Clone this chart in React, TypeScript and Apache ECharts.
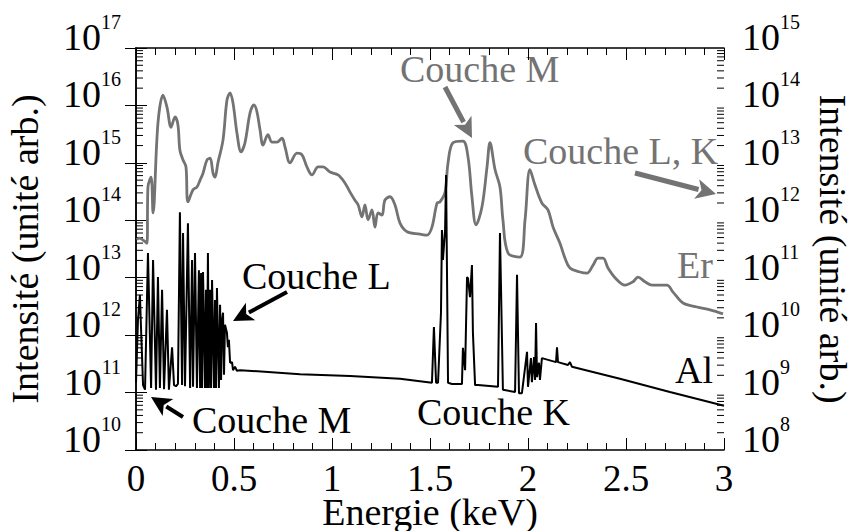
import React, { useEffect, useRef } from 'react';
import * as echarts from 'echarts';

// Er spectrum (grey), energy in keV, log10 of intensity (left-axis units)
const erEnergy = [0.005, 0.015, 0.056, 0.061, 0.077, 0.087, 0.112, 0.138, 0.158, 0.179, 0.199, 0.214, 0.224, 0.240, 0.255, 0.265, 0.291, 0.311, 0.327, 0.342, 0.362, 0.378, 0.393, 0.403, 0.418, 0.444, 0.464, 0.480, 0.495, 0.515, 0.536, 0.556, 0.582, 0.602, 0.617, 0.633, 0.648, 0.673, 0.694, 0.719, 0.745, 0.760, 0.786, 0.821, 0.847, 0.872, 0.898, 0.929, 0.954, 0.990, 1.031, 1.066, 1.092, 1.117, 1.133, 1.153, 1.168, 1.184, 1.204, 1.219, 1.235, 1.255, 1.270, 1.296, 1.321, 1.347, 1.383, 1.449, 1.485, 1.510, 1.536, 1.551, 1.577, 1.592, 1.617, 1.668, 1.694, 1.714, 1.735, 1.765, 1.791, 1.806, 1.832, 1.857, 1.872, 1.898, 1.959, 1.985, 2.010, 2.036, 2.071, 2.102, 2.128, 2.163, 2.189, 2.214, 2.265, 2.301, 2.332, 2.357, 2.383, 2.408, 2.444, 2.495, 2.536, 2.561, 2.597, 2.633, 2.673, 2.709, 2.740, 2.791, 2.862, 2.929, 2.995];
const erLogI = [13.66, 13.69, 13.60, 14.58, 14.75, 14.13, 15.69, 16.18, 15.97, 15.62, 15.80, 15.66, 15.22, 15.05, 14.93, 14.32, 14.53, 14.58, 14.70, 14.82, 15.05, 15.08, 14.82, 14.75, 15.00, 15.40, 16.09, 16.22, 16.04, 15.52, 15.19, 15.35, 15.87, 16.01, 15.89, 15.57, 15.31, 15.49, 15.36, 15.36, 15.43, 15.28, 15.00, 15.17, 15.14, 14.93, 14.79, 14.93, 14.93, 14.84, 14.79, 14.65, 14.49, 14.35, 14.27, 14.06, 14.27, 14.01, 14.18, 13.88, 14.13, 14.09, 14.35, 14.41, 14.27, 13.95, 13.80, 13.76, 13.74, 13.88, 14.30, 14.32, 14.49, 15.00, 15.35, 15.38, 15.10, 14.41, 13.92, 14.23, 14.93, 15.35, 14.88, 14.58, 14.01, 13.43, 13.36, 14.01, 14.88, 14.61, 14.30, 14.18, 13.88, 13.60, 13.34, 13.17, 13.10, 13.08, 13.22, 13.34, 13.34, 13.17, 13.00, 12.87, 12.93, 13.01, 12.93, 12.87, 12.87, 12.87, 12.75, 12.56, 12.49, 12.44, 12.37];

// Al spectrum (black)
const alEnergy = [0.000, 0.010, 0.020, 0.026, 0.036, 0.046, 0.061, 0.077, 0.087, 0.102, 0.112, 0.122, 0.133, 0.143, 0.158, 0.168, 0.184, 0.194, 0.204, 0.214, 0.224, 0.235, 0.240, 0.250, 0.265, 0.276, 0.286, 0.291, 0.301, 0.311, 0.321, 0.327, 0.332, 0.337, 0.342, 0.352, 0.357, 0.362, 0.367, 0.372, 0.378, 0.383, 0.388, 0.398, 0.403, 0.408, 0.413, 0.423, 0.429, 0.434, 0.439, 0.444, 0.449, 0.454, 0.464, 0.469, 0.474, 0.480, 0.490, 0.495, 0.505, 0.515, 0.531, 0.837, 1.092, 1.347, 1.510, 1.520, 1.531, 1.541, 1.556, 1.561, 1.566, 1.577, 1.582, 1.592, 1.612, 1.663, 1.668, 1.679, 1.689, 1.694, 1.704, 1.714, 1.719, 1.730, 1.745, 1.847, 1.857, 1.872, 1.934, 1.944, 1.954, 1.969, 1.995, 2.000, 2.015, 2.020, 2.031, 2.036, 2.041, 2.046, 2.056, 2.061, 2.071, 2.143, 2.148, 2.153, 2.204, 2.214, 2.224, 2.469, 2.724, 3.000];
const alLogI = [11.17, 12.26, 12.70, 12.09, 11.13, 11.05, 13.43, 11.08, 13.31, 11.05, 13.01, 11.08, 12.79, 11.06, 12.44, 11.05, 11.79, 11.13, 11.11, 11.15, 14.14, 11.13, 13.78, 11.11, 13.95, 11.08, 13.31, 11.10, 13.43, 11.08, 13.13, 11.08, 13.08, 11.08, 13.10, 11.08, 12.79, 11.08, 13.43, 11.08, 12.79, 11.08, 12.96, 11.08, 12.61, 11.08, 12.82, 11.08, 12.53, 11.22, 12.26, 12.39, 11.31, 12.18, 12.04, 11.79, 11.92, 11.52, 11.53, 11.39, 11.45, 11.38, 11.39, 11.32, 11.29, 11.24, 11.17, 12.14, 11.17, 11.17, 12.39, 13.83, 13.31, 13.83, 14.79, 11.17, 11.15, 11.15, 11.78, 11.39, 13.01, 12.99, 12.66, 13.22, 12.04, 11.13, 11.13, 11.10, 13.78, 11.05, 11.01, 13.05, 10.99, 10.99, 11.71, 11.10, 11.60, 11.18, 11.62, 11.22, 12.21, 11.27, 11.52, 11.22, 11.60, 11.53, 11.79, 11.53, 11.48, 11.53, 11.45, 11.24, 11.01, 10.77];

const leftExpRange = [10, 17];
const rightExpRange = [8, 15];
const xRange = [0, 3];
const xStep = 0.5;

const FONT = 'Liberation Serif';
const GREY = '#737373';

function arrow(tail: number[], head: number[], color: string, w: number) {
  const dx = head[0] - tail[0];
  const dy = head[1] - tail[1];
  const len = Math.sqrt(dx * dx + dy * dy);
  const ux = dx / len, uy = dy / len;
  const nx = -uy, ny = ux;
  const L = 20, W = 10;
  const bx = head[0] - ux * L, by = head[1] - uy * L;
  return [
    { type: 'line', shape: { x1: tail[0], y1: tail[1], x2: bx + ux * 2, y2: by + uy * 2 }, style: { stroke: color, lineWidth: w } },
    { type: 'polygon', shape: { points: [[head[0], head[1]], [bx + nx * W, by + ny * W], [bx + ux * 5, by + uy * 5], [bx - nx * W, by - ny * W]] }, style: { fill: color } },
  ];
}

function label(text: string, x: number, y: number, color: string) {
  return {
    type: 'text',
    x, y,
    style: { text, fontSize: 38, fontFamily: FONT, fill: color, align: 'left', verticalAlign: 'middle' },
  };
}

export default function App() {
  const ref = useRef<HTMLDivElement>(null);
  useEffect(() => {
    if (!ref.current) return;
    const chart = echarts.init(ref.current, null, { renderer: 'svg' });
    const minorTicks: number[][] = [];
    for (let n = leftExpRange[0]; n < leftExpRange[1]; n++) {
      for (let k = 2; k <= 9; k++) minorTicks.push([0, k * Math.pow(10, n)]);
    }
    const expLabel = (v: number) => `{b|10}{s|${Math.round(Math.log10(v))}}`;
    const rich = {
      b: { fontSize: 38, fontFamily: FONT, color: '#000', lineHeight: 44, verticalAlign: 'bottom' },
      s: { fontSize: 20, fontFamily: FONT, color: '#000', lineHeight: 20, verticalAlign: 'top' },
    };
    const xAxisCommon = {
      type: 'value', min: xRange[0], max: xRange[1], interval: xStep,
      axisLine: { show: true, lineStyle: { color: '#000', width: 1.5 } },
      axisTick: { show: true, inside: true, length: 12, lineStyle: { color: '#000' } },
      minorTick: { show: true, splitNumber: 5, length: 7, lineStyle: { color: '#000' } },
      splitLine: { show: false },
    };
    const yAxisCommon = {
      type: 'log', logBase: 10, splitNumber: 7,
      axisLine: { show: true, lineStyle: { color: '#000', width: 1.5 } },
      axisTick: { show: true, inside: true, length: 11, lineStyle: { color: '#000' } },
      splitLine: { show: false },
      nameLocation: 'middle',
      nameMoveOverlap: false,
      nameTextStyle: { fontSize: 38, fontFamily: FONT, color: '#000' },
    };
    chart.setOption({
      animation: false,
      grid: { left: 136, top: 48, width: 588, height: 402, containLabel: false, outerBoundsMode: 'none' },
      xAxis: [
        { ...xAxisCommon, position: 'bottom', name: 'Energie (keV)', nameLocation: 'middle', nameGap: 43, nameMoveOverlap: false,
          nameTextStyle: { fontSize: 38, fontFamily: FONT, color: '#000' },
          axisLabel: { fontSize: 37, fontFamily: FONT, color: '#000', margin: 10 } },
        { ...xAxisCommon, position: 'top', axisLabel: { show: false } },
      ],
      yAxis: [
        { ...yAxisCommon, position: 'left', min: Math.pow(10, leftExpRange[0]), max: Math.pow(10, leftExpRange[1]),
          name: 'Intensité (unité arb.)', nameGap: 92,
          axisLabel: { formatter: expLabel, rich, margin: 15, padding: [0, 0, 28, 0] } },
        { ...yAxisCommon, position: 'right', min: Math.pow(10, rightExpRange[0]), max: Math.pow(10, rightExpRange[1]),
          name: 'Intensité (unité arb.)', nameGap: 90, nameRotate: -90,
          axisLabel: { formatter: expLabel, rich, margin: 18, padding: [0, 0, 28, 0] } },
      ],
      series: [
        { type: 'line', name: 'Er', xAxisIndex: 0, yAxisIndex: 0, showSymbol: false, symbol: 'none', smooth: 0.35,
          lineStyle: { color: GREY, width: 2.8 }, data: erEnergy.map((x, i) => [x, Math.pow(10, erLogI[i])]), z: 2 },
        { type: 'line', name: 'Al', xAxisIndex: 0, yAxisIndex: 0, showSymbol: false, symbol: 'none',
          lineStyle: { color: '#000', width: 2 }, data: alEnergy.map((x, i) => [x, Math.pow(10, alLogI[i])]), z: 3 },
        { type: 'custom', xAxisIndex: 0, yAxisIndex: 0, silent: true, clip: false, data: minorTicks,
          renderItem: (params: any, api: any) => {
            const v = api.value(1);
            const l = api.coord([xRange[0], v]);
            const r = api.coord([xRange[1], v]);
            return { type: 'group', children: [
              { type: 'line', shape: { x1: l[0], y1: l[1], x2: l[0] + 7, y2: l[1] }, style: { stroke: '#000', lineWidth: 1 } },
              { type: 'line', shape: { x1: r[0], y1: r[1], x2: r[0] - 7, y2: r[1] }, style: { stroke: '#000', lineWidth: 1 } },
            ] };
          } },
      ],
      graphic: [
        label('Couche M', 400, 69, GREY),
        ...arrow([445, 87], [472, 138], GREY, 5),
        label('Couche L, K', 523, 151, GREY),
        ...arrow([635, 173], [716, 194], GREY, 5),
        label('Er', 677, 265, GREY),
        label('Al', 675, 370, '#000'),
        label('Couche L', 242, 276, '#000'),
        ...arrow([287, 292], [233, 321], '#000', 4),
        label('Couche M', 192, 420, '#000'),
        ...arrow([183, 417], [151, 397], '#000', 4),
        label('Couche K', 417, 412, '#000'),
      ],
    });
    return () => chart.dispose();
  }, []);
  return <div ref={ref} style={{ position: 'absolute', left: 0, top: 0, width: 854, height: 531 }} />;
}
